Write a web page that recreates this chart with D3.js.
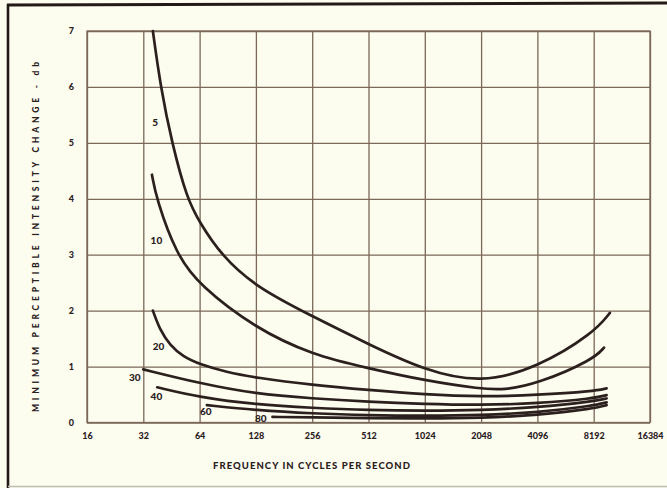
<!DOCTYPE html>
<html>
<head>
<meta charset="utf-8">
<script src="https://cdn.jsdelivr.net/npm/d3@7"></script>
<style>
body{margin:0;background:#fcfcef;}
svg{display:block;}
.tick text{font-family:Lato,"DejaVu Sans",sans-serif;font-weight:900;fill:#2a201c;}
.title{font-family:Lato,"DejaVu Sans",sans-serif;font-weight:900;fill:#2a201c;}
.curveLabel{font-family:Lato,"DejaVu Sans",sans-serif;font-weight:900;fill:#2a201c;font-size:10px;}
</style>
</head>
<body>
<svg id="chart"></svg>
<script>
// readings: [frequency in cps, db]
var curve5 = [[36,7.0],[39.6,6.0],[45.5,5.0],[54.8,4.0],[64,3.58],[83,3.0],[128,2.42],[256,1.9],[512,1.4],[1024,0.93],[2048,0.7],[4096,0.98],[8192,1.6],[10000,1.96]];
var curve10 = [[35.6,4.43],[37.6,4.0],[48.1,3.0],[64,2.45],[128,1.68],[256,1.21],[512,0.97],[1024,0.75],[2048,0.6],[2700,0.58],[4096,0.69],[8192,1.13],[9300,1.34]];
var curve20 = [[36,2.0],[39.3,1.65],[44.5,1.38],[52,1.18],[64,1.04],[89,0.9],[128,0.8],[256,0.67],[512,0.58],[1024,0.5],[2048,0.46],[4096,0.49],[8192,0.56],[9600,0.61]];
var curve30 = [[32,0.95],[64,0.7],[128,0.51],[256,0.43],[512,0.37],[1024,0.33],[2048,0.31],[4096,0.34],[8192,0.43],[9600,0.49]];
var curve40 = [[38,0.63],[64,0.45],[128,0.32],[256,0.26],[512,0.22],[1024,0.21],[2048,0.22],[4096,0.27],[8192,0.38],[9600,0.43]];
var curve60 = [[70,0.31],[128,0.22],[256,0.16],[512,0.13],[1024,0.12],[2048,0.13],[4096,0.18],[8192,0.3],[9600,0.36]];
var curve80 = [[157,0.1],[256,0.09],[512,0.08],[1024,0.07],[2048,0.08],[4096,0.13],[8192,0.25],[9600,0.31]];

var curveNames = ["5","10","20","30","40","60","80"];
var curves = [curve5,curve10,curve20,curve30,curve40,curve60,curve80];

var freqTicks = [16,32,64,128,256,512,1024,2048,4096,8192,16384];
var dbTicks = [0,1,2,3,4,5,6,7];

var xTitle = "FREQUENCY IN CYCLES PER SECOND";
var yTitle = "MINIMUM   PERCEPTIBLE   INTENSITY   CHANGE  -  db";

var drawFrame = function(svg,screen)
{
    svg.append("rect")
    .attr("width",screen.width)
    .attr("height",screen.height)
    .attr("fill","#fcfcef")
    //old scan border
    svg.append("line")
    .attr("x1",8).attr("x2",8)
    .attr("y1",4).attr("y2",488)
    .attr("stroke","#231a17")
    .attr("stroke-width",2.6)
    svg.append("line")
    .attr("x1",7).attr("x2",screen.width)
    .attr("y1",5).attr("y2",3)
    .attr("stroke","#231a17")
    .attr("stroke-width",3)
    svg.append("line")
    .attr("x1",8).attr("x2",screen.width)
    .attr("y1",486.5).attr("y2",486.5)
    .attr("stroke","#bdbdb2")
    .attr("stroke-width",1.5)
}

var drawAxes = function(svg,graph,xScale,yScale)
{
    var xAxis = d3.axisBottom(xScale)
        .tickValues(freqTicks)
        .tickFormat(d3.format("d"))
        .tickSize(-(graph.bottom-graph.top))
        .tickPadding(10);
    var yAxis = d3.axisLeft(yScale)
        .tickValues(dbTicks)
        .tickFormat(d3.format("d"))
        .tickSize(-(graph.right-graph.left))
        .tickPadding(13);

    var gx = svg.append("g")
    .attr("transform","translate(0,"+graph.bottom+")")
    .call(xAxis);
    var gy = svg.append("g")
    .attr("transform","translate("+graph.left+",0)")
    .call(yAxis);

    [gx,gy].forEach(function(g)
    {
        g.select(".domain").remove();
        g.selectAll(".tick line")
        .attr("stroke","#7b6858")
        .attr("stroke-width",1.3);
        g.selectAll(".tick text")
        .attr("font-size",9);
    })

    svg.append("rect")
    .attr("x",graph.left)
    .attr("y",graph.top)
    .attr("width",graph.right-graph.left)
    .attr("height",graph.bottom-graph.top)
    .attr("fill","none")
    .attr("stroke","#7b6858")
    .attr("stroke-width",1.3)
}

var drawCurves = function(svg,xScale,yScale)
{
    var line = d3.line()
        .x(function(p){return xScale(p[0]);})
        .y(function(p){return yScale(p[1]);})
        .curve(d3.curveBasis);

    svg.append("g")
    .selectAll("path")
    .data(curves)
    .enter()
    .append("path")
    .attr("d",line)
    .attr("fill","none")
    .attr("stroke","#2b201d")
    .attr("stroke-width",2.7)
    .attr("stroke-linecap","round")
}

var drawLabels = function(svg,graph,xScale,yScale)
{
    //where each curve number sits, in chart units
    var spots = [[37,5.36],[37.6,3.26],[38.6,1.35],[28.8,0.8],[37.6,0.46],[69,0.2],[136,0.08]];

    svg.append("g")
    .selectAll("text")
    .data(curveNames)
    .enter()
    .append("text")
    .classed("curveLabel",true)
    .attr("text-anchor","middle")
    .attr("x",function(d,i){return xScale(spots[i][0]);})
    .attr("y",function(d,i){return yScale(spots[i][1]);})
    .attr("dy","0.35em")
    .text(function(d){return d;})

    svg.append("text")
    .classed("title",true)
    .text(xTitle)
    .attr("font-size",9.5)
    .attr("x",213)
    .attr("y",469)
    .attr("textLength",197)
    .attr("lengthAdjust","spacing")

    svg.append("g")
    .attr("transform","translate(39,412)")
    .append("text")
    .classed("title",true)
    .text(yTitle)
    .attr("font-size",8.5)
    .attr("textLength",350)
    .attr("lengthAdjust","spacing")
    .attr("transform","rotate(-90)")
}

var initGraph = function()
{
    var screen = {width:667,height:488};
    var graph = {left:87,right:650,top:31,bottom:422.5};

    var svg = d3.select("#chart")
    .attr("width",screen.width)
    .attr("height",screen.height);

    var xScale = d3.scaleLog()
        .base(2)
        .domain([16,16384])
        .range([graph.left,graph.right]);
    var yScale = d3.scaleLinear()
        .domain([0,7])
        .range([graph.bottom,graph.top]);

    drawFrame(svg,screen);
    drawAxes(svg,graph,xScale,yScale);
    drawCurves(svg,xScale,yScale);
    drawLabels(svg,graph,xScale,yScale);
}

initGraph();
</script>
</body>
</html>
